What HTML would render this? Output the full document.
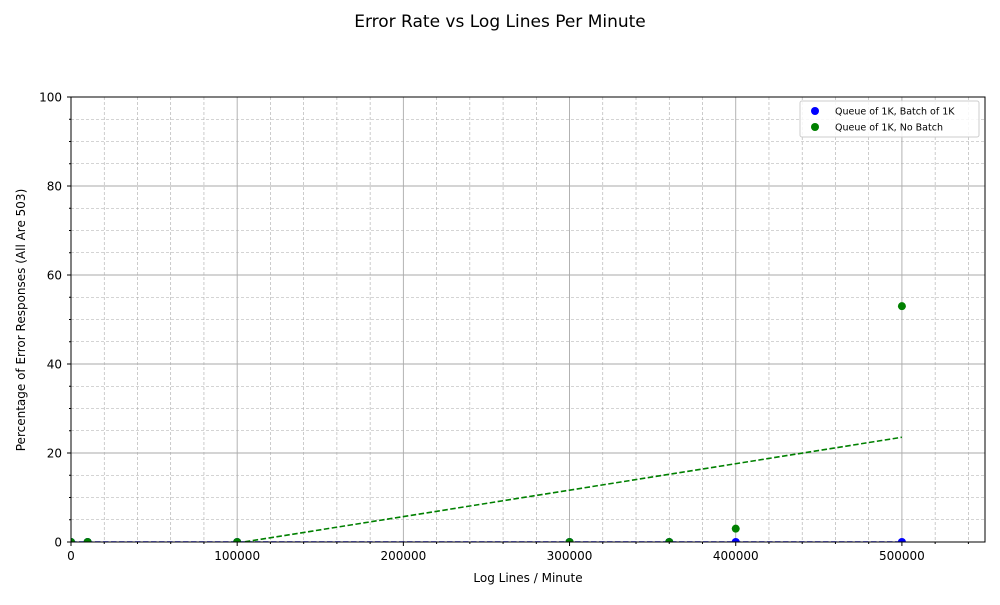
<!DOCTYPE html>
<html><head><meta charset="utf-8"><style>body{margin:0;background:#fff}svg{font-family:"DejaVu Sans","Liberation Sans",sans-serif}</style></head>
<body>
<svg id="c" width="1000" height="600"></svg>
<script>
const blueX=[0,10000,100000,300000,360000,400000,500000];
const blueY=[0,0,0,0,0,0,0];
const greenX=[0,10000,100000,300000,360000,400000,500000];
const greenY=[0,0,0,0,0,3,53];
const xTicks=[0,100000,200000,300000,400000,500000];
const yTicks=[0,20,40,60,80,100];
const L=71,R=985,T=97,B=542,XMAX=550000,YMAX=100;
const sx=v=>L+(v/XMAX)*(R-L), sy=v=>B-(v/YMAX)*(B-T);
const svg=document.getElementById('c');const NS='http://www.w3.org/2000/svg';
function mk(t,a,p){const e=document.createElementNS(NS,t);for(const k in a)e.setAttribute(k,a[k]);(p||svg).appendChild(e);return e;}
function fit(xs,ys){const n=xs.length;let mx=0,my=0;xs.forEach((x,i)=>{mx+=x;my+=ys[i]});mx/=n;my/=n;let a=0,b=0;xs.forEach((x,i)=>{a+=(x-mx)*(ys[i]-my);b+=(x-mx)**2});const m=a/b;return [m,my-m*mx];}
let t=mk('text',{x:500,y:27,'text-anchor':'middle','font-size':17});t.textContent='Error Rate vs Log Lines Per Minute';
mk('clipPath',{id:'cp'});mk('rect',{x:L,y:T,width:R-L,height:B-T},svg.lastChild);
const g=mk('g',{'clip-path':'url(#cp)'});
for(let v=20000;v<XMAX;v+=20000){if(v%100000)mk('line',{x1:sx(v),x2:sx(v),y1:T,y2:B,stroke:'#aaa','stroke-width':0.6,'stroke-dasharray':'3,2'},g);}
for(let v=5;v<YMAX;v+=5){if(v%20)mk('line',{x1:L,x2:R,y1:sy(v),y2:sy(v),stroke:'#aaa','stroke-width':0.6,'stroke-dasharray':'3,2'},g);}
xTicks.forEach(v=>mk('line',{x1:sx(v),x2:sx(v),y1:T,y2:B,stroke:'#aaa','stroke-width':0.9},g));
yTicks.forEach(v=>mk('line',{x1:L,x2:R,y1:sy(v),y2:sy(v),stroke:'#aaa','stroke-width':0.9},g));
[[blueX,blueY,'#0000ff'],[greenX,greenY,'#008000']].forEach(([xs,ys,c],i)=>{const [m,b]=fit(xs,ys);const x0=xs[0],x1=xs[xs.length-1];
const l=mk('line',{x1:sx(x0),y1:sy(m*x0+b),x2:sx(x1),y2:sy(m*x1+b),stroke:c,'stroke-width':1.6,'stroke-dasharray':'5.5,2.5'},g);});
[[blueX,blueY,'#0000ff','point-batch'],[greenX,greenY,'#008000','point-no-batch']].forEach(([xs,ys,c,n])=>xs.forEach((x,i)=>{const p=mk('circle',{cx:sx(x),cy:sy(ys[i]),r:4,fill:c},g);}));
mk('rect',{x:L,y:T,width:R-L,height:B-T,fill:'none',stroke:'#000','stroke-width':1});
for(let v=20000;v<XMAX;v+=20000)if(v%100000)mk('line',{x1:sx(v),x2:sx(v),y1:B,y2:B+2,stroke:'#000'});
for(let v=5;v<YMAX;v+=5)if(v%20)mk('line',{x1:L,x2:L-2,y1:sy(v),y2:sy(v),stroke:'#000'});
xTicks.forEach(v=>{mk('line',{x1:sx(v),x2:sx(v),y1:B,y2:B+4,stroke:'#000'});const e=mk('text',{x:sx(v),y:B+18,'text-anchor':'middle','font-size':12});e.textContent=v;});
yTicks.forEach(v=>{mk('line',{x1:L,x2:L-4,y1:sy(v),y2:sy(v),stroke:'#000'});const e=mk('text',{x:L-9,y:sy(v)+4.5,'text-anchor':'end','font-size':12});e.textContent=v;});
t=mk('text',{x:528,y:582,'text-anchor':'middle','font-size':12});t.textContent='Log Lines / Minute';
t=mk('text',{x:25,y:320,'text-anchor':'middle','font-size':12,transform:'rotate(-90 25 320)'});t.textContent='Percentage of Error Responses (All Are 503)';
const lg=mk('g',{});
mk('rect',{x:800,y:101,width:179,height:36,rx:2,fill:'#fff','fill-opacity':0.85,stroke:'#ccc'},lg);
[['Queue of 1K, Batch of 1K','#0000ff'],['Queue of 1K, No Batch','#008000']].forEach(([s,c],i)=>{mk('circle',{cx:815,cy:111+i*16,r:4,fill:c},lg);const e=mk('text',{x:835,y:114.5+i*16,'font-size':9.5},lg);e.textContent=s;});
</script>
</body></html>
